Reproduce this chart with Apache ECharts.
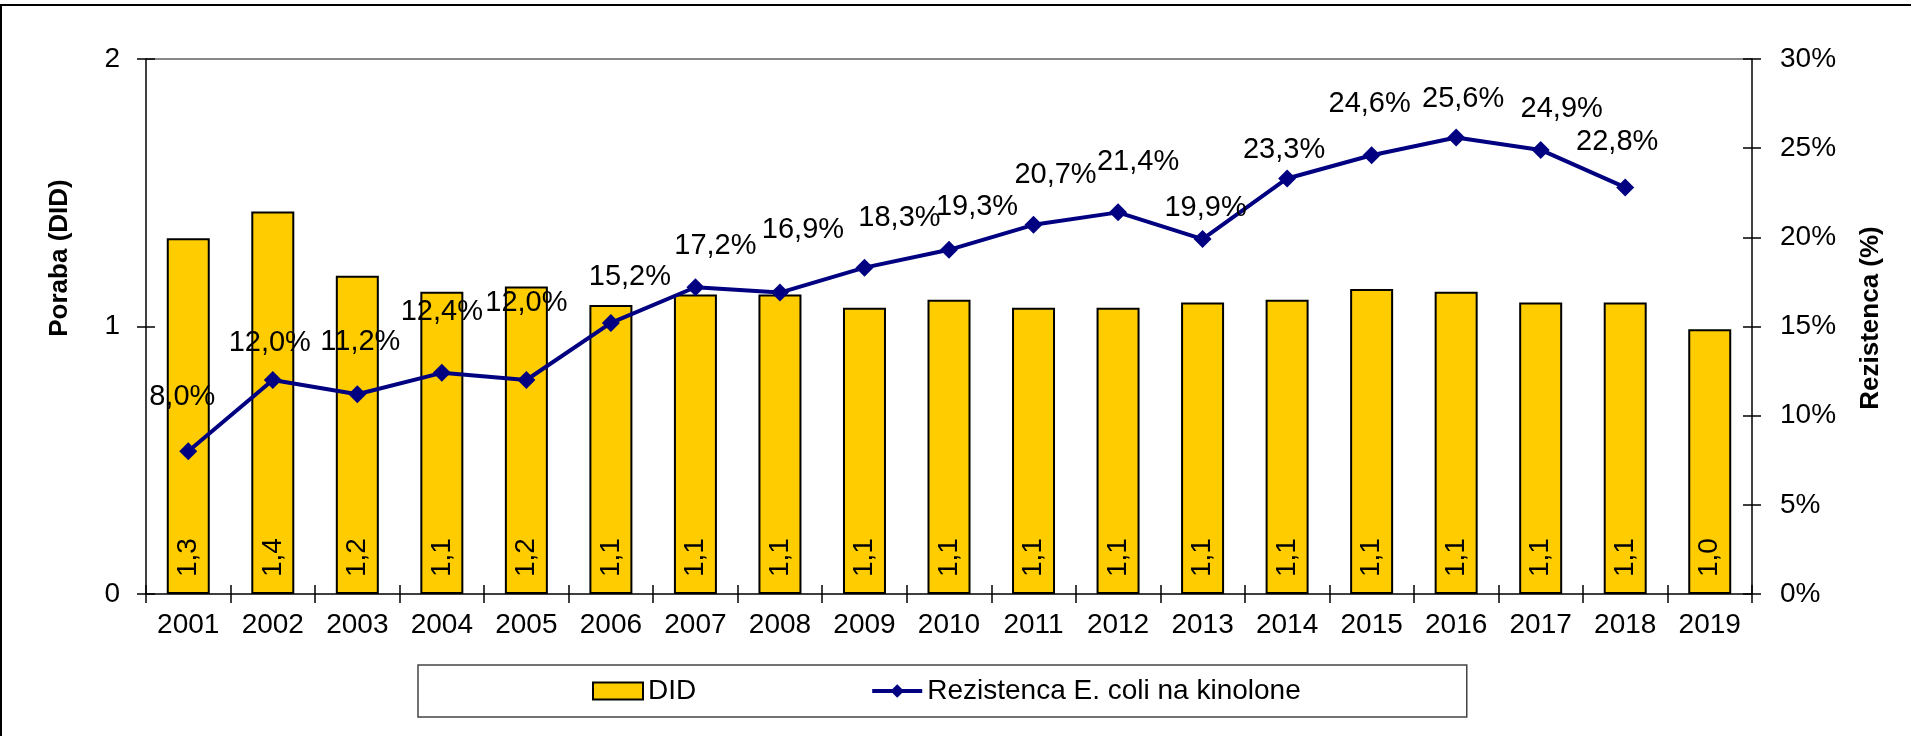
<!DOCTYPE html>
<html>
<head>
<meta charset="utf-8">
<script src="https://cdn.jsdelivr.net/npm/echarts@6/dist/echarts.min.js"></script>
<style>
  html, body { margin: 0; padding: 0; background: #fff; }
  #chart { width: 1911px; height: 736px; }
</style>
</head>
<body>
<div id="chart"></div>
<script>
// leta
var years = ['2001', '2002', '2003', '2004', '2005', '2006', '2007', '2008', '2009', '2010',
  '2011', '2012', '2013', '2014', '2015', '2016', '2017', '2018', '2019']
// poraba kinolonov (DID)
var did = [1.33, 1.43, 1.19, 1.13, 1.15, 1.08, 1.12, 1.12, 1.07, 1.10,
  1.07, 1.07, 1.09, 1.10, 1.14, 1.13, 1.09, 1.09, 0.99]
// rezistenca E. coli na kinolone (%), 2019 ni podatka
var rezistenca = [8.0, 12.0, 11.2, 12.4, 12.0, 15.2, 17.2, 16.9, 18.3, 19.3,
  20.7, 21.4, 19.9, 23.3, 24.6, 25.6, 24.9, 22.8]
var leftTicks = ['0', '1', '2']
var rightTicks = ['0%', '5%', '10%', '15%', '20%', '25%', '30%']

// premiki oznak na črti (kot v izvirniku, ročno premaknjene)
var labelNudge = [[-6, -54], [-3, -37], [3, -52], [0, -61], [0, -77], [19, -46], [20, -41],
  [23, -63], [35, -50], [28, -43], [22, -50], [20, -50], [3, -31], [-3, -28], [-2, -51],
  [7, -38], [21, -41], [-8, -45]]

var FONT = 'Liberation Sans, Arial, sans-serif'
var chart = echarts.init(document.getElementById('chart'))

// 1 decimalka z vejico, zaokroževanje kot v Excelu
function comma(v) {
  return (Math.round(v * 10) / 10).toFixed(1).replace('.', ',')
}

var lineData = rezistenca.map(function (v, i) {
  return {
    value: v,
    label: { offset: labelNudge[i] }
  }
})

var tickStyle = { color: '#000', width: 1.5 }

chart.setOption({
  animation: false,
  textStyle: { fontFamily: FONT },
  grid: { left: 146, right: 159, top: 59, bottom: 142 },
  legend: {
    left: 418,
    top: 665,
    padding: [12, 166, 12, 174],
    itemGap: 174,
    itemWidth: 50,
    itemHeight: 17,
    borderColor: '#444',
    borderWidth: 1.5,
    textStyle: { fontSize: 28, color: '#000', fontFamily: FONT },
    data: [
      { name: 'DID', icon: 'rect' },
      { name: 'Rezistenca E. coli na kinolone', lineStyle: { width: 4, color: '#000080' } }
    ]
  },
  xAxis: [{
    type: 'category',
    data: years,
    axisLine: { lineStyle: { color: '#000', width: 1.5 } },
    axisTick: { show: true, length: 9, lineStyle: tickStyle },
    axisLabel: { fontSize: 28, color: '#000', margin: 17, fontFamily: FONT }
  }, {
    // notranji del kljukic
    type: 'category',
    data: years,
    position: 'bottom',
    axisLine: { show: false },
    axisTick: { show: true, inside: true, length: 9, lineStyle: tickStyle },
    axisLabel: { show: false }
  }],
  yAxis: [{
    type: 'value',
    min: 0,
    max: 2,
    interval: 1,
    position: 'left',
    axisLine: { show: true, lineStyle: { color: '#000', width: 1.5 } },
    axisTick: { show: true, length: 9, lineStyle: tickStyle },
    axisLabel: {
      fontSize: 28, color: '#000', margin: 26, fontFamily: FONT,
      formatter: function (v) { return leftTicks[Math.round(v)] }
    },
    splitLine: {
      show: true,
      lineStyle: { color: ['rgba(0,0,0,0)', 'rgba(0,0,0,0)', '#888'], width: 2 }
    }
  }, {
    type: 'value',
    min: 0,
    max: 30,
    interval: 5,
    position: 'right',
    axisLine: { show: true, lineStyle: { color: '#000', width: 1.5 } },
    axisTick: { show: true, length: 9, lineStyle: tickStyle },
    axisLabel: {
      fontSize: 28, color: '#000', margin: 28, fontFamily: FONT,
      formatter: function (v) { return rightTicks[Math.round(v / 5)] }
    },
    splitLine: { show: false }
  }, {
    type: 'value',
    min: 0, max: 2, interval: 1,
    position: 'left',
    axisLine: { show: false },
    axisTick: { show: true, inside: true, length: 9, lineStyle: tickStyle },
    axisLabel: { show: false },
    splitLine: { show: false }
  }, {
    type: 'value',
    min: 0, max: 30, interval: 5,
    position: 'right',
    axisLine: { show: false },
    axisTick: { show: true, inside: true, length: 9, lineStyle: tickStyle },
    axisLabel: { show: false },
    splitLine: { show: false }
  }],
  series: [{
    name: 'DID',
    type: 'bar',
    data: did,
    barWidth: 43,
    itemStyle: { color: '#FFCC00', borderColor: '#000', borderWidth: 2 },
    label: {
      show: true,
      position: 'insideBottom',
      rotate: 90,
      align: 'left',
      verticalAlign: 'middle',
      distance: 17,
      fontSize: 28,
      color: '#000',
      fontFamily: FONT,
      formatter: function (p) { return comma(p.value) }
    }
  }, {
    name: 'Rezistenca E. coli na kinolone',
    type: 'line',
    yAxisIndex: 1,
    data: lineData,
    z: 5,
    symbol: 'diamond',
    symbolSize: 18,
    lineStyle: { color: '#000080', width: 4 },
    itemStyle: { color: '#000080' },
    label: {
      show: true,
      position: 'inside',
      fontSize: 29,
      color: '#000',
      fontFamily: FONT,
      formatter: function (p) { return comma(p.value) + '%' }
    }
  }],
  graphic: [{
    type: 'text',
    x: 60,
    y: 258,
    rotation: Math.PI / 2,
    style: {
      text: 'Poraba (DID)',
      font: 'bold 26px ' + FONT,
      fill: '#000',
      align: 'center',
      verticalAlign: 'middle'
    }
  }, {
    type: 'text',
    x: 1871,
    y: 318,
    rotation: Math.PI / 2,
    style: {
      text: 'Rezistenca (%)',
      font: 'bold 26px ' + FONT,
      fill: '#000',
      align: 'center',
      verticalAlign: 'middle'
    }
  }, {
    type: 'line',
    shape: { x1: 0, y1: 5, x2: 1911, y2: 5 },
    style: { stroke: '#000', lineWidth: 2 }
  }, {
    type: 'line',
    shape: { x1: 1, y1: 5, x2: 1, y2: 736 },
    style: { stroke: '#000', lineWidth: 2 }
  }]
})
</script>
</body>
</html>
